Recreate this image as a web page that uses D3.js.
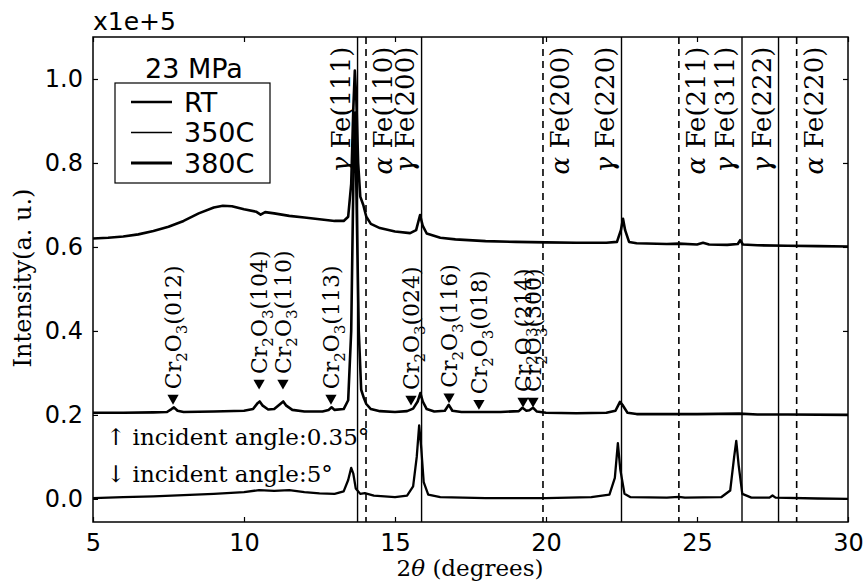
<!DOCTYPE html>
<html>
<head>
<meta charset="utf-8">
<script src="https://cdn.jsdelivr.net/npm/d3@7"></script>
<style>
  body { margin: 0; background: #fff; }
  text { fill: #000; }
</style>
</head>
<body>
<div id="chart"></div>
<script>
// ---- data (intensity in units of 1e5) ----
var traceTop = [
  [5.0,0.620],[5.5,0.622],[6.0,0.625],[6.5,0.630],[7.0,0.638],[7.5,0.648],[8.0,0.662],[8.5,0.680],
  [9.0,0.694],[9.3,0.698],[9.6,0.697],[10.0,0.690],[10.4,0.684],[10.55,0.677],[10.7,0.683],[11.0,0.680],
  [11.5,0.674],[12.0,0.670],[12.5,0.666],[13.0,0.662],[13.3,0.662],[13.45,0.672],[13.55,0.75],[13.62,0.93],
  [13.67,1.02],[13.72,0.95],[13.78,0.80],[13.85,0.72],[13.95,0.70],[14.05,0.672],[14.2,0.655],[14.5,0.645],
  [15.0,0.637],[15.5,0.633],[15.7,0.640],[15.83,0.676],[15.92,0.650],[16.05,0.632],[16.5,0.622],[17.0,0.618],
  [18.0,0.614],[19.0,0.612],[20.0,0.611],[21.0,0.610],[22.0,0.610],[22.35,0.612],[22.48,0.640],[22.55,0.667],
  [22.62,0.640],[22.75,0.612],[23.0,0.609],[24.0,0.607],[24.4,0.608],[25.0,0.606],[25.2,0.610],[25.4,0.606],
  [26.0,0.605],[26.35,0.607],[26.43,0.616],[26.52,0.606],[27.0,0.604],[28.0,0.603],[29.0,0.602],[30.0,0.601]
];
var traceMid = [
  [5.0,0.205],[6.0,0.205],[7.0,0.206],[7.45,0.207],[7.6,0.214],[7.68,0.218],[7.8,0.210],[8.0,0.207],
  [9.0,0.208],[10.0,0.210],[10.3,0.214],[10.45,0.228],[10.52,0.232],[10.62,0.222],[10.8,0.213],[11.0,0.214],
  [11.2,0.226],[11.3,0.232],[11.4,0.222],[11.6,0.212],[12.0,0.208],[12.6,0.208],[12.8,0.212],[12.9,0.218],
  [13.0,0.212],[13.3,0.214],[13.45,0.235],[13.55,0.40],[13.63,0.80],[13.68,0.92],[13.73,0.70],[13.8,0.40],
  [13.88,0.26],[13.97,0.24],[14.05,0.226],[14.2,0.214],[14.5,0.209],[15.0,0.207],[15.4,0.209],[15.6,0.215],
  [15.75,0.232],[15.84,0.252],[15.92,0.232],[16.05,0.214],[16.3,0.208],[16.65,0.210],[16.78,0.224],[16.9,0.210],
  [17.2,0.207],[17.8,0.207],[18.5,0.207],[19.1,0.209],[19.22,0.217],[19.35,0.210],[19.45,0.211],[19.57,0.217],
  [19.7,0.208],[20.0,0.205],[21.0,0.204],[22.0,0.205],[22.3,0.210],[22.45,0.231],[22.55,0.222],[22.7,0.205],
  [23.0,0.202],[24.0,0.202],[25.0,0.202],[26.4,0.203],[27.0,0.201],[28.0,0.201],[30.0,0.200]
];
var traceLow = [
  [5.0,0.002],[6.0,0.004],[7.0,0.006],[8.0,0.009],[9.0,0.012],[10.0,0.016],[10.5,0.021],[11.0,0.019],
  [11.5,0.021],[12.0,0.016],[12.5,0.013],[13.0,0.012],[13.3,0.018],[13.45,0.045],[13.55,0.074],[13.62,0.06],
  [13.7,0.025],[13.85,0.012],[14.0,0.014],[14.3,0.008],[15.0,0.004],[15.4,0.008],[15.6,0.03],[15.72,0.10],
  [15.8,0.175],[15.87,0.12],[15.95,0.04],[16.1,0.01],[16.5,0.004],[18.0,0.002],[20.0,0.002],[21.5,0.004],
  [22.1,0.010],[22.28,0.05],[22.38,0.133],[22.46,0.07],[22.6,0.012],[22.8,0.004],[24.0,0.003],[24.4,0.005],
  [24.6,0.003],[25.8,0.004],[26.1,0.02],[26.23,0.10],[26.3,0.138],[26.38,0.08],[26.5,0.012],[26.8,0.003],
  [27.4,0.003],[27.5,0.008],[27.6,0.003],[29.0,0.001],[30.0,0.0]
];

var legendNames = ["RT", "350C", "380C"];
var legendTitle = "23 MPa";

// iron reference lines
var fePhase = ["γ", "α", "γ", "α", "γ", "α", "γ", "γ", "α"];
var feHkl   = ["111", "110", "200", "200", "220", "211", "311", "222", "220"];
var fePos   = [13.76, 14.04, 15.88, 19.9, 22.5, 24.4, 26.49, 27.7, 28.3];

// Cr2O3 markers on the middle trace
var crHkl  = ["012", "104", "110", "113", "024", "116", "018", "214", "300"];
var crPos  = [7.65, 10.5, 11.29, 12.88, 15.53, 16.79, 17.78, 19.24, 19.57];
var crMark = [0.240, 0.276, 0.276, 0.240, 0.238, 0.243, 0.228, 0.233, 0.233];

var xTicks = [5, 10, 15, 20, 25, 30];
var yTicks = [0.0, 0.2, 0.4, 0.6, 0.8, 1.0];

// ---- layout ----
var width = 866, height = 582;
var mLeft = 93, mRight = 848, mTop = 37, mBottom = 522;

var x = d3.scaleLinear().domain([5, 30]).range([mLeft, mRight]);
var y = d3.scaleLinear().domain([-0.055, 1.1]).range([mBottom, mTop]);

var svg = d3.select("#chart").append("svg")
  .attr("width", width).attr("height", height);

svg.append("defs").append("clipPath").attr("id", "plot")
  .append("rect").attr("x", mLeft).attr("y", mTop)
  .attr("width", mRight - mLeft).attr("height", mBottom - mTop);

var serif = "'DejaVu Serif', serif";
var sans = "'DejaVu Sans', sans-serif";

// vertical reference lines
var plot = svg.append("g").attr("clip-path", "url(#plot)");
plot.selectAll("line.fe")
  .data(fePos)
  .enter().append("line")
    .attr("x1", function(d) { return x(d); })
    .attr("x2", function(d) { return x(d); })
    .attr("y1", mTop).attr("y2", mBottom)
    .attr("stroke", "#000")
    .attr("stroke-width", function(d, i) { return fePhase[i] == "α" ? 1.6 : 1.4; })
    .attr("stroke-dasharray", function(d, i) { return fePhase[i] == "α" ? "7,5" : null; });

// traces
var line = d3.line()
  .x(function(d) { return x(d[0]); })
  .y(function(d) { return y(d[1]); });

[traceLow, traceMid, traceTop].forEach(function(t, i) {
  plot.append("path")
    .datum(t)
    .attr("d", line)
    .attr("fill", "none")
    .attr("stroke", "#000")
    .attr("stroke-width", [2.3, 2.6, 2.6][i])
    .attr("stroke-linejoin", "round");
});

// Fe labels, rotated, hanging from the top
fePos.forEach(function(p, i) {
  var side = fePhase[i] == "α" ? 17 : -17;
  var px = x(p) + side, py = y(1.077);
  var t = svg.append("text")
    .attr("transform", "translate(" + px + "," + py + ") rotate(-90)")
    .attr("text-anchor", "end")
    .attr("dy", "0.36em")
    .attr("font-family", serif)
    .attr("font-size", 26);
  t.append("tspan").attr("font-style", "italic").text(fePhase[i]);
  t.append("tspan").text(" Fe(" + feHkl[i] + ")");
});

// Cr2O3 markers + labels
var tri = d3.symbol().type(d3.symbolTriangle).size(55);
crPos.forEach(function(p, i) {
  var px = x(p), py = y(crMark[i]);
  svg.append("path")
    .attr("d", tri())
    .attr("transform", "translate(" + px + "," + py + ") rotate(180)")
    .attr("fill", "#000");
  var t = svg.append("text")
    .attr("transform", "translate(" + px + "," + (py - 9) + ") rotate(-90)")
    .attr("text-anchor", "start")
    .attr("dy", "0.36em")
    .attr("font-family", serif)
    .attr("font-size", 22);
  t.append("tspan").text("Cr");
  t.append("tspan").attr("font-size", 15).attr("dy", 6).text("2");
  t.append("tspan").attr("dy", -6).text("O");
  t.append("tspan").attr("font-size", 15).attr("dy", 6).text("3");
  t.append("tspan").attr("dy", -6).text("(" + crHkl[i] + ")");
});

// annotations
svg.append("text")
  .attr("x", 106).attr("y", 445)
  .attr("font-family", serif).attr("font-size", 23)
  .text("↑ incident angle:0.35°");
svg.append("text")
  .attr("x", 106).attr("y", 482)
  .attr("font-family", serif).attr("font-size", 23)
  .text("↓ incident angle:5°");

// frame
svg.append("rect")
  .attr("x", mLeft).attr("y", mTop)
  .attr("width", mRight - mLeft).attr("height", mBottom - mTop)
  .attr("fill", "none").attr("stroke", "#000").attr("stroke-width", 1.5);

// axes with inward ticks on all four sides
var axB = svg.append("g").attr("transform", "translate(0," + mBottom + ")")
  .call(d3.axisBottom(x).tickValues(xTicks).tickSizeInner(-5).tickSizeOuter(0).tickPadding(12)
    .tickFormat(d3.format("d")));
var axT = svg.append("g").attr("transform", "translate(0," + mTop + ")")
  .call(d3.axisTop(x).tickValues(xTicks).tickSizeInner(-5).tickSizeOuter(0).tickFormat(""));
var axL = svg.append("g").attr("transform", "translate(" + mLeft + ",0)")
  .call(d3.axisLeft(y).tickValues(yTicks).tickSizeInner(-5).tickSizeOuter(0).tickPadding(10)
    .tickFormat(d3.format(".1f")));
var axR = svg.append("g").attr("transform", "translate(" + mRight + ",0)")
  .call(d3.axisRight(y).tickValues(yTicks).tickSizeInner(-5).tickSizeOuter(0).tickFormat(""));

[axB, axT, axL, axR].forEach(function(a) {
  a.select(".domain").remove();
  a.selectAll(".tick line").attr("stroke", "#000").attr("stroke-width", 1.2);
  a.selectAll("text").attr("font-family", sans).attr("font-size", 24).attr("fill", "#000");
});
axB.selectAll("text").attr("dy", "0.71em");

svg.append("text")
  .attr("x", mLeft).attr("y", 30)
  .attr("font-family", sans).attr("font-size", 25)
  .text("x1e+5");

// axis titles
var xt = svg.append("text")
  .attr("x", 470).attr("y", 576)
  .attr("text-anchor", "middle")
  .attr("font-family", serif).attr("font-size", 23);
xt.append("tspan").text("2");
xt.append("tspan").attr("font-style", "italic").text("θ");
xt.append("tspan").text(" (degrees)");

svg.append("text")
  .attr("transform", "translate(22,278) rotate(-90)")
  .attr("text-anchor", "middle")
  .attr("dy", "0.36em")
  .attr("font-family", serif).attr("font-size", 24)
  .text("Intensity(a. u.)");

// legend
var leg = svg.append("g");
leg.append("rect")
  .attr("x", 115).attr("y", 83).attr("width", 155).attr("height", 100)
  .attr("fill", "#fff").attr("stroke", "#000").attr("stroke-width", 1.2);
leg.append("text")
  .attr("x", 194).attr("y", 78).attr("text-anchor", "middle")
  .attr("font-family", sans).attr("font-size", 27)
  .text(legendTitle);
legendNames.forEach(function(n, i) {
  var ly = 102 + i * 30.5;
  leg.append("line")
    .attr("x1", 131).attr("x2", 172).attr("y1", ly).attr("y2", ly)
    .attr("stroke", "#000").attr("stroke-width", [2.4, 1.6, 3.0][i]);
  leg.append("text")
    .attr("x", 184).attr("y", ly).attr("dy", "0.36em")
    .attr("font-family", sans).attr("font-size", 27)
    .text(n);
});
</script>
</body>
</html>
